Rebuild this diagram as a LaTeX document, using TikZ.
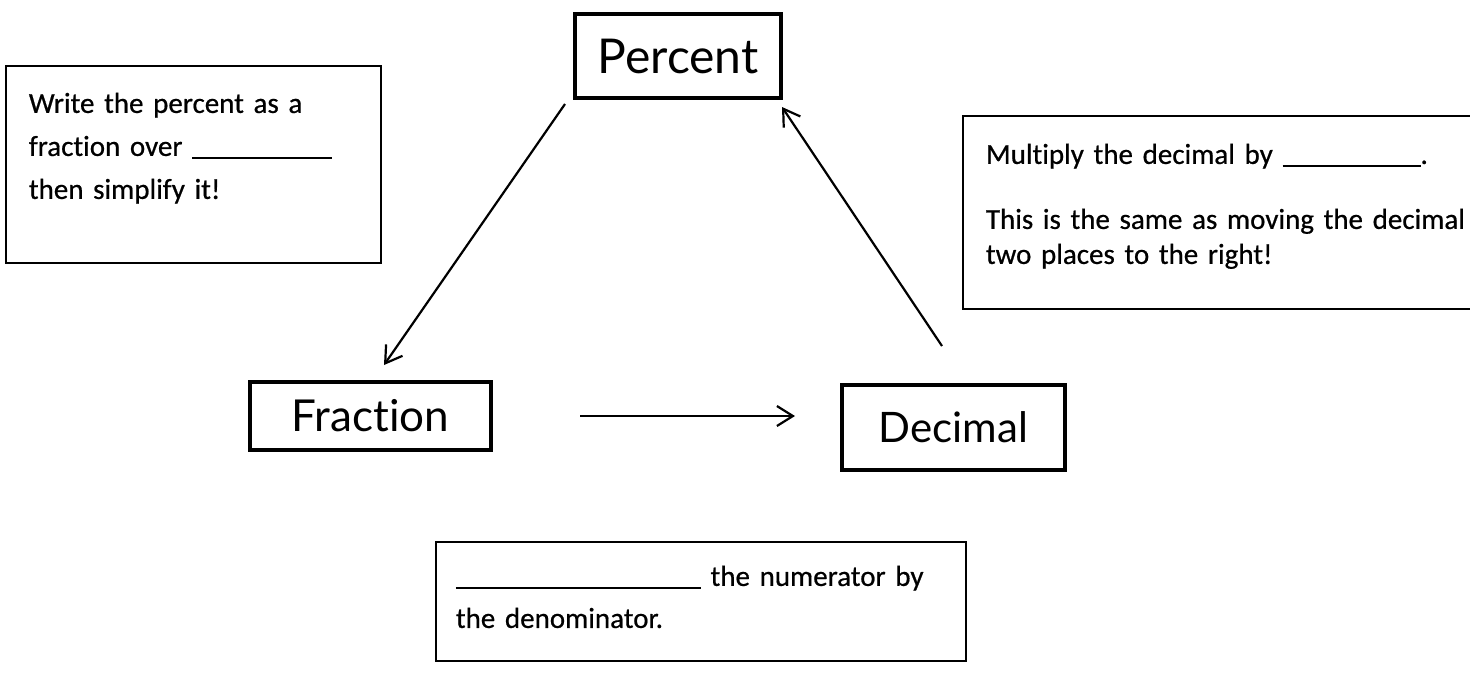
\documentclass[tikz,border=0pt]{standalone}
\usepackage{fontspec}
\setmainfont[Ligatures=NoCommon, FakeBold=0.6, WordSpace=0.85]{Carlito}
\newfontfamily\headfont[Ligatures={NoCommon,NoDiscretionary,NoContextual}]{Lato}
\usetikzlibrary{arrows.meta,positioning}

\begin{document}
\begin{tikzpicture}[
  x=0.5pt, y=-0.5pt, >={Straight Barb[length=8pt, width=10pt]},
  head/.style={draw, line width=2pt, font=\headfont\fontsize{22}{26}\selectfont, inner sep=0pt},
  note/.style={draw, line width=0.9pt, anchor=north west, align=left,
               inner ysep=0pt, inner xsep=11.5pt},
  link/.style={->, line width=1.1pt}
]
\useasboundingbox (0,0) rectangle (1470,675);
% the three forms
\node[head, minimum width=103pt, minimum height=42pt,
      font=\headfont\fontsize{24}{28}\selectfont] (percent) at (678,56) {Percent};
\node[head, minimum width=120.5pt, minimum height=34pt] (fraction) at (370.5,416) {Fraction};
\node[head, minimum width=111.5pt, minimum height=42.5pt,
      font=\headfont\fontsize{21}{25}\selectfont] (decimal) at (953.5,427.5) {Decimal};
% the hints
\node[note, text width=164.5pt, text height=23.5pt, text depth=75pt,
      font=\fontsize{14.5}{21.5}\selectfont] (pctnote) at (5,65)
  {Write the percent as a\\ fraction over \rule[-1.5pt]{70pt}{0.8pt}\\ then simplify it!};
\node[note, text width=250pt, text height=24pt, text depth=72.5pt,
      font=\fontsize{14.5}{17.5}\selectfont] (decnote) at (962,115)
  {Multiply the decimal by \rule[-1.5pt]{69pt}{0.8pt}.\\[15pt]
   This is the same as moving the decimal\\ two places to the right!};
\node[note, inner xsep=10pt, text width=245pt, text height=22pt, text depth=37.5pt,
      font=\fontsize{14.5}{21}\selectfont] (fracnote) at (435,541)
  {\rule[-1.5pt]{122.5pt}{0.8pt} the numerator by\\ the denominator.};
% arrows
\draw[link] ([shift={(-8,4)}]percent.south west) -- ([shift={(13.5,-15)}]fraction.north);
\draw[link] ([shift={(87,0)}]fraction.east) -- ([shift={(-45,0)}]fraction.east -| decimal.west);
\draw[link] ([shift={(-11.5,-37)}]decimal.north) -- ([shift={(-1,7)}]percent.south east);
\end{tikzpicture}
\end{document}
